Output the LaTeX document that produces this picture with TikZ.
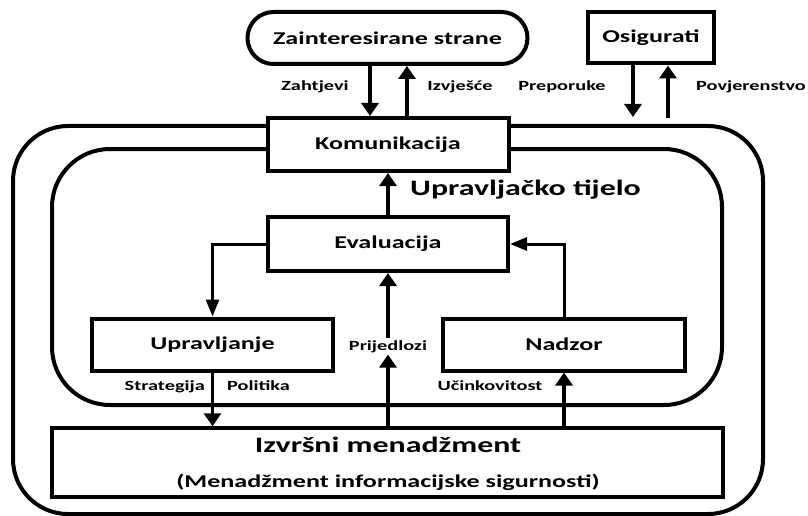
\documentclass[tikz,border=0pt]{standalone}
\usepackage{fontspec}
\setmainfont{Carlito}[FakeStretch=1.45]
\usetikzlibrary{arrows.meta}
\begin{document}
\begin{tikzpicture}[x=1pt,y=-1pt,
  box/.style={draw,line width=4pt,fill=white,rectangle,inner sep=0pt,
    font=\fontsize{18}{20}\selectfont\bfseries},
  lbl/.style={font=\fontsize{14}{16}\selectfont\bfseries,inner sep=2pt},
  big/.style={font=\fontsize{22}{24}\selectfont\bfseries,inner sep=0pt},
  arr/.style={line width=3.5pt,-{Triangle[width=17pt,length=13pt]}},
  thinarr/.style={line width=3pt,-{Triangle[width=13pt,length=17pt]}},
  frame/.style={draw,line width=4pt}]
\useasboundingbox (0,0) rectangle (808,516);
% round frames
\draw[frame,rounded corners=55pt] (13,126) rectangle (763,514);
\draw[frame,rounded corners=58pt] (52,149) rectangle (722,405);
% boxes
\node[box,rounded corners=26pt,minimum width=280pt,minimum height=52pt] (zs) at (387.5,38) {Zainteresirane strane};
\node[box,minimum width=126pt,minimum height=51pt] (osi) at (651,38) {Osigurati};
\node[box,minimum width=241pt,minimum height=53pt] (kom) at (388,144.5) {Komunikacija};
\node[box,minimum width=240pt,minimum height=54pt] (eva) at (388,244) {Evaluacija};
\node[box,minimum width=241pt,minimum height=52pt] (upr) at (212.5,344.5) {Upravljanje};
\node[box,minimum width=242pt,minimum height=52pt] (nad) at (564,344.5) {Nadzor};
\node[box,line width=3.5pt,minimum width=671pt,minimum height=69pt] (izv) at (387.5,462.5) {};
\node[big,anchor=base] (izvA) at (388,452) {Izvršni menadžment};
\node[font=\fontsize{18}{20}\selectfont\bfseries,anchor=base,inner sep=0pt] (izvB) at (388,487) {(Menadžment informacijske sigurnosti)};
\node[big,anchor=base west] (ut) at (410,195) {Upravljačko tijelo};
% labels
\node[lbl,anchor=base] (zah) at (315,91) {Zahtjevi};
\node[lbl,anchor=base] (izj) at (460,91) {Izvješće};
\node[lbl,anchor=base] (pre) at (562,91) {Preporuke};
\node[lbl,anchor=base] (pov) at (751,91) {Povjerenstvo};
\node[lbl,anchor=base east] (str) at (207,390) {Strategija};
\node[lbl,anchor=base west] (pol) at (225,390) {Politika};
\node[lbl,anchor=base] (uci) at (490,390) {Učinkovitost};
\node[lbl,anchor=base,fill=white] (prij) at (388,350) {Prijedlozi};
% free ends
\coordinate (p1) at (633,117);
\coordinate (p2) at (668,118);
% connectors
\draw[arr] (370,0 |- zs.south) -- (370,0 |- kom.north);
\draw[arr] (407,0 |- kom.north) -- (407,0 |- zs.south);
\draw[arr] (633,0 |- osi.south) -- (p1);
\draw[arr] (p2) -- (668,0 |- osi.south);
\draw[arr] (eva.north) -- (kom.south);
\draw[thinarr] (eva.west) -| (upr.north);
\draw[thinarr] (nad.north) |- (eva.east);
\draw[arr] (upr.south) -- (upr.south |- izv.north);
\draw[arr] (388,0 |- izv.north) -- (prij.south);
\draw[arr] (prij.north) -- (eva.south);
\draw[arr] (nad.south |- izv.north) -- (nad.south);
\end{tikzpicture}
\end{document}
